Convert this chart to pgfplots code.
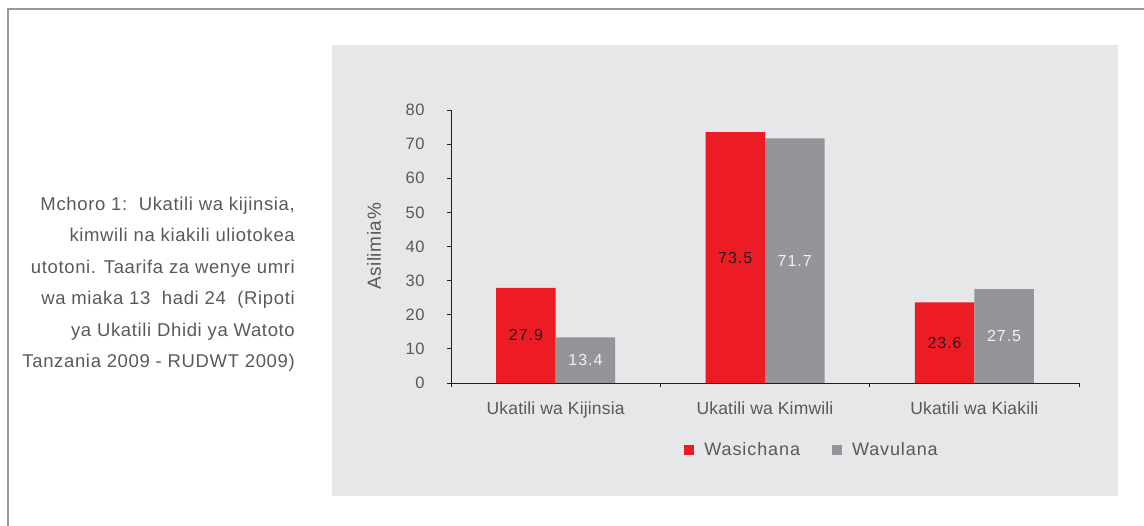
\documentclass[border=0pt]{standalone}
\usepackage{fontspec}
\setmainfont{Liberation Sans}
\usepackage{pgfplots}
\pgfplotsset{compat=1.18}
\definecolor{redbar}{HTML}{ED1C24}
\definecolor{graybar}{HTML}{939598}
\definecolor{panel}{HTML}{E6E7E8}
\definecolor{txt}{HTML}{58595B}
\definecolor{axisc}{HTML}{231F20}
\newcommand{\fs}[2]{\fontsize{#1}{#1}\selectfont\addfontfeatures{LetterSpace=#2}}

\begin{document}
\begin{tikzpicture}
\path[use as bounding box] (0pt,0pt) rectangle (1144pt,526pt);
\draw[line width=2pt, color=black!40] (1144pt,516.5pt) -- (7.5pt,516.5pt) -- (7.5pt,0pt);
\fill[panel] (332pt,30pt) rectangle (1118pt,481pt);
\begin{scope}[every node/.style={anchor=base east, inner sep=0pt, text=txt, font=\fs{18.5}{3.5}}]
\node at (295pt,315.5pt) {Mchoro 1:\ \ Ukatili wa kijinsia,};
\node at (295pt,284pt) {kimwili na kiakili uliotokea};
\node at (295pt,252.5pt) {utotoni. Taarifa za wenye umri};
\node at (295pt,221pt) {wa miaka 13\ \ hadi 24\ \ (Ripoti};
\node at (295pt,189.5pt) {ya Ukatili Dhidi ya Watoto};
\node at (295pt,158pt) {Tanzania 2009 - RUDWT 2009)};
\end{scope}
\begin{axis}[
  at={(451pt,143pt)}, anchor=south west,
  scale only axis, width=628pt, height=273pt,
  xmin=-0.5, xmax=2.5, ymin=0, ymax=80,
  axis lines*=left,
  axis line style={axisc, line width=0.8pt},
  tick style={axisc, line width=0.8pt},
  tick align=outside, major tick length=4pt,
  /pgf/number format/assume math mode=true,
  ytick={0,10,...,80},
  yticklabel style={font=\fs{16.5}{3}, text=txt, xshift=-19pt},
  xtick={-0.5,0.5,1.5,2.5}, xticklabels={},
  extra x ticks={0,1,2},
  extra x tick labels={Ukatili wa Kijinsia, Ukatili wa Kimwili, Ukatili wa Kiakili},
  extra x tick style={major tick length=0pt, tick label style={font=\fs{17.5}{1}, text=txt, yshift=-15pt}},
  ylabel={Asilimia\%},
  every axis y label/.style={at={(axis description cs:-0.1226,0.5)}, rotate=90, anchor=center, font=\fs{19}{3}, text=txt},
  ybar=0pt, bar width=59.5pt,
  visualization depends on={rawy \as \ry},
  nodes near coords={\pgfmathprintnumber[fixed,precision=1,fixed zerofill]{\pgfplotspointmeta}},
  every node near coord/.append style={anchor=center, font=\fs{16}{6}, yshift={-1.70625*\ry pt}},
  legend style={at={(0.575,-0.245)}, anchor=center, draw=none, fill=none, legend columns=2,
    font=\fs{18}{5}, text=txt,
    /tikz/every odd column/.append style={column sep=8pt},
    /tikz/every even column/.append style={column sep=30pt}},
  legend image code/.code={\fill[#1] (0pt,-5pt) rectangle (10pt,5pt);},
]
\addplot[fill=redbar, draw=none, nodes near coords style={text=axisc}] coordinates {(0,27.9) (1,73.5) (2,23.6)};
\addplot[fill=graybar, draw=none, nodes near coords style={text=white!95!black}] coordinates {(0,13.4) (1,71.7) (2,27.5)};
\legend{Wasichana, Wavulana}
\end{axis}
\end{tikzpicture}
\end{document}
